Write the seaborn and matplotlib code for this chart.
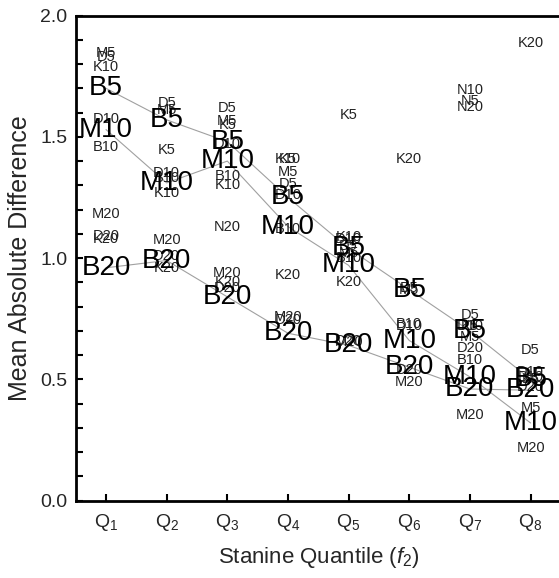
import numpy as np
import pandas as pd
import matplotlib
matplotlib.use("Agg")
import matplotlib.pyplot as plt
from matplotlib.ticker import MultipleLocator
import seaborn as sns

# -------------------------------
# DATA
# -------------------------------
quantiles = [1, 2, 3, 4, 5, 6, 7, 8]
tick_labels = ["Q$_1$", "Q$_2$", "Q$_3$", "Q$_4$", "Q$_5$", "Q$_6$", "Q$_7$", "Q$_8$"]

# highlighted series (large labels, joined by lines)
B5 = [1.70, 1.57, 1.48, 1.25, 1.04, 0.87, 0.70, 0.50]
M10 = [1.53, 1.31, 1.40, 1.13, 0.97, 0.66, 0.51, 0.32]
B20 = [0.96, 0.99, 0.84, 0.69, 0.64, 0.55, 0.46, 0.455]

# remaining series (small labels)
D5 = [1.83, 1.64, 1.62, 1.305, 1.05, 0.875, 0.765, 0.62]
M5 = [1.845, 1.61, 1.565, 1.355, 1.02, 0.87, 0.674, 0.381]
K5 = [np.nan, 1.445, 1.55, 1.41, 1.59, np.nan, 0.72, 0.50]
N5 = [np.nan, np.nan, np.nan, np.nan, np.nan, np.nan, 1.647, np.nan]
B10 = [1.46, 1.33, 1.34, 1.12, 1.00, 0.73, 0.58, 0.51]
D10 = [1.575, 1.35, 1.47, 1.26, 1.08, 0.72, 0.72, 0.53]
K10 = [1.79, 1.27, 1.30, 1.41, 1.085, np.nan, np.nan, np.nan]
N10 = [np.nan, np.nan, np.nan, np.nan, np.nan, np.nan, 1.693, 2.04]
D20 = [1.09, 1.01, 0.875, 0.745, 0.66, 0.54, 0.63, 0.47]
K20 = [1.08, 0.96, 0.90, 0.93, 0.90, 1.41, np.nan, 1.886]
M20 = [1.18, 1.075, 0.94, 0.757, 0.653, 0.49, 0.353, 0.216]
N20 = [np.nan, np.nan, 1.128, np.nan, np.nan, np.nan, 1.623, np.nan]

big = {"B5": B5, "M10": M10, "B20": B20}
small = {"D5": D5, "M5": M5, "K5": K5, "N5": N5,
         "B10": B10, "D10": D10, "K10": K10, "N10": N10,
         "D20": D20, "K20": K20, "M20": M20, "N20": N20}

# -------------------------------
# STYLE
# -------------------------------
sns.set_style("ticks")
plt.rcParams["font.family"] = ["Liberation Sans", "DejaVu Sans"]
plt.rcParams["mathtext.fontset"] = "custom"
plt.rcParams["mathtext.rm"] = "Liberation Sans"
plt.rcParams["mathtext.it"] = "Liberation Sans:italic"

fig = plt.figure(figsize=(5.59, 5.78), dpi=100)
ax = fig.add_axes([0.1354, 0.134, 0.868, 0.839])

# -------------------------------
# LINES FOR HIGHLIGHTED SERIES
# -------------------------------
long_df = pd.DataFrame(
    [(q, name, v) for name, vals in big.items() for q, v in zip(quantiles, vals)],
    columns=["quantile", "series", "mad"])
sns.lineplot(data=long_df, x="quantile", y="mad", units="series",
             estimator=None, color="#a0a0a0", lw=0.8, ax=ax, legend=False)

# -------------------------------
# TEXT MARKERS
# -------------------------------
for name, vals in small.items():
    for q, v in zip(quantiles, vals):
        if np.isnan(v):
            continue
        ax.text(q, v, name, ha="center", va="center", fontsize=10.5,
                color="#222222", clip_on=True)

for name, vals in big.items():
    for q, v in zip(quantiles, vals):
        ax.text(q, v, name, ha="center", va="center", fontsize=20,
                color="black", clip_on=True)

# -------------------------------
# AXES
# -------------------------------
ax.set_xlim(0.5, 8.5)
ax.set_ylim(0, 2.0)
ax.set_xticks(quantiles)
ax.set_xticklabels(tick_labels)
ax.yaxis.set_major_locator(MultipleLocator(0.5))
ax.yaxis.set_minor_locator(MultipleLocator(0.1))
ax.yaxis.set_major_formatter(matplotlib.ticker.FormatStrFormatter("%.1f"))
ax.tick_params(axis="both", which="both", direction="in", width=1.5,
               length=5, labelsize=14, color="black")
ax.tick_params(axis="y", which="both", left=True, right=False, pad=6)
ax.tick_params(axis="x", which="minor", bottom=False)
ax.tick_params(axis="x", pad=8)
for side in ["left", "bottom", "top", "right"]:
    ax.spines[side].set_linewidth(2)
    ax.spines[side].set_color("black")

ax.set_xlabel("Stanine Quantile ($f_2$)", fontsize=16, labelpad=9)
ax.set_ylabel("Mean Absolute Difference", fontsize=18, labelpad=6)

fig.savefig("out.png", dpi=100)
